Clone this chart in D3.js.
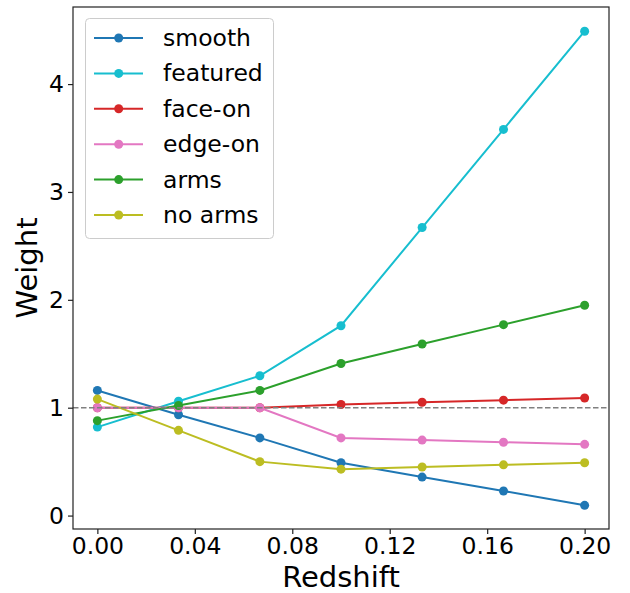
<!DOCTYPE html>
<html><head><meta charset="utf-8">
<script src="https://cdn.jsdelivr.net/npm/d3@7"></script>
<style>body{margin:0;background:#fff}svg{display:block}text{font-family:"DejaVu Sans",sans-serif}</style>
</head><body><div id="chart"></div>
<script>
const redshift = [0, 0.0333, 0.0667, 0.1, 0.1333, 0.1667, 0.2];
const seriesNames = ["smooth", "featured", "face-on", "edge-on", "arms", "no arms"];
const smooth   = [1.16, 0.935, 0.72, 0.49, 0.357, 0.228, 0.095];
const featured = [0.82, 1.06, 1.296, 1.76, 2.67, 3.58, 4.49];
const faceOn   = [1.0, 1.0, 1.0, 1.03, 1.05, 1.07, 1.09];
const edgeOn   = [1.0, 1.0, 1.0, 0.72, 0.70, 0.68, 0.66];
const arms     = [0.88, 1.02, 1.16, 1.41, 1.59, 1.77, 1.95];
const noArms   = [1.08, 0.79, 0.50, 0.43, 0.45, 0.47, 0.49];
const colors = ["#1f77b4", "#17becf", "#d62728", "#e377c2", "#2ca02c", "#bcbd22"];
const xTicks = [0, 0.04, 0.08, 0.12, 0.16, 0.20];
const yTicks = [0, 1, 2, 3, 4];

const values = [smooth, featured, faceOn, edgeOn, arms, noArms];
const W = 630, H = 593;
const m = {left: 73, right: 609, top: 7, bottom: 529};
const svg = d3.select("#chart").append("svg").attr("width", W).attr("height", H);
const x = d3.scaleLinear().domain([-0.01, 0.21]).range([m.left, m.right]);
const y = d3.scaleLinear().domain([-0.1245, 4.7145]).range([m.bottom, m.top]);

// lines
const line = d3.line().x(d => x(d[0])).y(d => y(d[1]));
values.forEach((vals, i) => {
  const pts = redshift.map((r, j) => [r, vals[j]]);
  const g = svg.append("g");
  g.append("path").attr("d", line(pts)).attr("fill", "none").attr("stroke", colors[i]).attr("stroke-width", 2);
  g.selectAll("circle").data(pts).join("circle")
    .attr("cx", d => x(d[0])).attr("cy", d => y(d[1])).attr("r", 4.5).attr("fill", colors[i]);
});
// dashed reference
svg.append("line").attr("x1", m.left).attr("x2", m.right).attr("y1", y(1)).attr("y2", y(1))
  .attr("stroke", "#808080").attr("stroke-width", 1.5).attr("stroke-dasharray", "5.5,2.5");

// frame
svg.append("rect").attr("x", m.left).attr("y", m.top).attr("width", m.right - m.left).attr("height", m.bottom - m.top)
  .attr("fill", "none").attr("stroke", "#222").attr("stroke-width", 1.2);

// axes
const xa = svg.append("g").attr("transform", `translate(0,${m.bottom})`)
  .call(d3.axisBottom(x).tickValues(xTicks).tickFormat(d3.format(".2f")).tickSize(5).tickPadding(3));
const ya = svg.append("g").attr("transform", `translate(${m.left},0)`)
  .call(d3.axisLeft(y).tickValues(yTicks).tickFormat(d3.format("d")).tickSize(5).tickPadding(4));
[xa, ya].forEach(a => {
  a.select(".domain").remove();
  a.selectAll(".tick line").attr("stroke", "#222").attr("stroke-width", 1.2);
  a.selectAll(".tick text").attr("font-size", 23.5).attr("fill", "#000").attr("font-family", "DejaVu Sans");
});

svg.append("text").attr("x", (m.left + m.right) / 2).attr("y", 587).attr("text-anchor", "middle")
  .attr("font-size", 29).text("Redshift");
svg.append("text").attr("transform", `translate(37,${(m.top + m.bottom) / 2}) rotate(-90)`).attr("text-anchor", "middle")
  .attr("font-size", 29).text("Weight");

// legend
const lg = svg.append("g");
lg.append("rect").attr("x", 85.5).attr("y", 18.5).attr("width", 188).attr("height", 220).attr("rx", 4)
  .attr("fill", "#fff").attr("fill-opacity", 0.8).attr("stroke", "#ccc").attr("stroke-width", 1);
seriesNames.forEach((n, i) => {
  const cy = 38 + i * 35.4;
  lg.append("line").attr("x1", 94).attr("x2", 143).attr("y1", cy).attr("y2", cy).attr("stroke", colors[i]).attr("stroke-width", 2);
  lg.append("circle").attr("cx", 118.7).attr("cy", cy).attr("r", 4.5).attr("fill", colors[i]);
  lg.append("text").attr("x", 163).attr("y", cy + 8).attr("font-size", 23.5).text(n);
});
</script></body></html>
